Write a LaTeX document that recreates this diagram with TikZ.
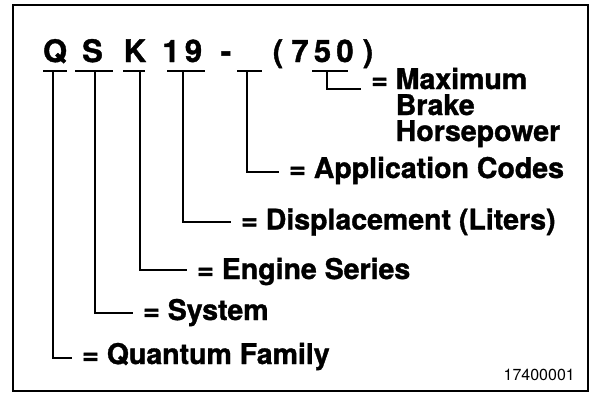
\documentclass[tikz,border=0pt]{standalone}
\usepackage{fontspec}
\setmainfont{TeX Gyre Heros}[BoldFeatures={FakeBold=1.2}]
\begin{document}
\begin{tikzpicture}[x=1pt,y=-1pt,
  code/.style={font=\fontsize{31}{31}\selectfont\bfseries, inner sep=0pt, anchor=base},
  lbl/.style={font=\fontsize{28.5}{28}\selectfont\bfseries, inner sep=0pt, anchor=base west},
  conn/.style={line width=2pt},
  uline/.style={line width=2pt}]
\useasboundingbox (0,0) rectangle (597,394);
\draw[line width=2pt] (13,5) rectangle (588,391);
% code characters
\node[code] (cQ) at (55,62) {Q};
\node[code] (cS) at (92.5,62) {S};
\node[code] (cK) at (135,62) {K};
\node[code] (c1) at (171,62) {1};
\node[code] (c9) at (193.5,62) {9};
\node[code] (cdash) at (226,62) {-};
\node[code] (clp) at (278,62) {(};
\node[code] (c7) at (300,62) {7};
\node[code] (c5) at (322.5,62) {5};
\node[code] (c0) at (345,62) {0};
\node[code] (crp) at (368,62) {)};
% underlines
\draw[uline] (43,71) -- (67,71);
\draw[uline] (75,71) -- (113,71);
\draw[uline] (123,71) -- (145,71);
\draw[uline] (167,71) -- (205,71);
\draw[uline] (237,71) -- (262,71);
\draw[uline] (312,71) -- (348,71);
% junctions
\coordinate (jQ) at (53,71);
\coordinate (jS) at (95,71);
\coordinate (jK) at (140,71);
\coordinate (j19) at (183,71);
\coordinate (jA) at (247,71);
\coordinate (jM) at (327,71);
% labels
\node[lbl] (lQ) at (82,364) {= Quantum Family};
\node[lbl] (lS) at (143,320) {= System};
\node[lbl] (lK) at (197,279) {= Engine Series};
\node[lbl] (l19) at (241,229.5) {= Displacement (Liters)};
\node[lbl] (lA) at (289,178) {= Application Codes};
\node[lbl] (lM) at (371,89) {= Maximum};
\node[lbl] (lB) at (371,115) {\hphantom{=}\ Brake};
\node[lbl] (lH) at (371,141) {\hphantom{=}\ Horsepower};
\node[font=\fontsize{16}{16}\selectfont, inner sep=0pt, anchor=base east] (num) at (575,380) {17400001};
% connectors
\draw[conn] (jQ) |- ([shift={(-10,-6)}]lQ.base west);
\draw[conn] (jS) |- ([shift={(-10,-7)}]lS.base west);
\draw[conn] (jK) |- ([shift={(-10,-9)}]lK.base west);
\draw[conn] (j19) |- ([shift={(-10,-8)}]l19.base west);
\draw[conn] (jA) |- ([shift={(-10,-6)}]lA.base west);
\draw[conn] (jM) |- ([shift={(-10,0)}]lM.base west);
\end{tikzpicture}
\end{document}
